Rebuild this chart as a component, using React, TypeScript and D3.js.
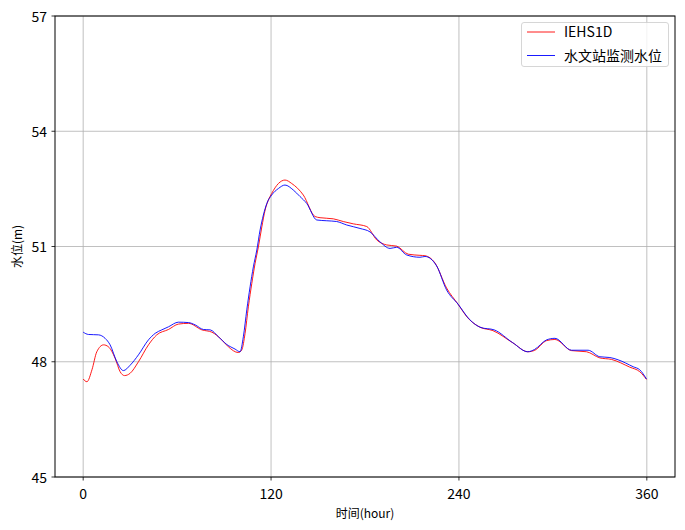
import React from "react";
import * as d3 from "d3";

const hoursRed = [0, 2.4, 5.6, 8.7, 13, 16.1, 20.4, 23.6, 26.4, 30, 35.3, 41.7, 47, 54.5, 60.8, 67.2, 75.8, 82.2, 88.5, 92.7, 99.1, 101.3, 103.4, 105.5, 107.7, 109.8, 111.9, 114.1, 116.2, 118.3, 120.4, 124.7, 128.9, 133.2, 140.6, 148.1, 151.3, 159.8, 166.1, 172.5, 181.1, 187.5, 193.9, 200.2, 207.6, 215.1, 218.3, 224.7, 232.1, 239.4, 245.7, 253.4, 261.7, 274.5, 284, 288.5, 296, 301.3, 311.9, 321.5, 330, 337.5, 349.1, 355.5, 359.8];
const valuesRed = [47.55, 47.48, 47.79, 48.26, 48.44, 48.39, 48.09, 47.74, 47.64, 47.7, 48.0, 48.44, 48.7, 48.84, 48.98, 49.0, 48.83, 48.77, 48.57, 48.39, 48.24, 48.31, 48.74, 49.43, 50.04, 50.56, 50.99, 51.51, 51.95, 52.21, 52.38, 52.64, 52.73, 52.64, 52.34, 51.78, 51.75, 51.72, 51.65, 51.59, 51.52, 51.17, 51.04, 51.01, 50.8, 50.77, 50.76, 50.57, 49.92, 49.5, 49.14, 48.9, 48.81, 48.49, 48.26, 48.3, 48.55, 48.58, 48.29, 48.26, 48.1, 48.06, 47.86, 47.74, 47.54];

const hoursBlue = [0, 3.4, 9.8, 14, 17.2, 21.5, 25.7, 30, 35.3, 41.7, 46, 50.2, 54.5, 60.8, 67.2, 71.5, 76.8, 81.1, 86.4, 91.7, 97, 100.2, 102.3, 104.5, 106.6, 108.7, 110.9, 113, 115.1, 117.3, 120.4, 124.7, 128.9, 134.2, 138.5, 142.8, 149.2, 155.6, 161.9, 168.3, 176.8, 183.2, 189.6, 196, 200.2, 206.6, 215.1, 218.3, 225.8, 232.1, 239.4, 246.8, 254.1, 262.5, 274.2, 284, 288.3, 296, 301.3, 311.9, 322.5, 330, 336.4, 341.7, 351.3, 355.5, 359.8];
const valuesBlue = [48.77, 48.71, 48.7, 48.61, 48.44, 48.0, 47.77, 47.91, 48.18, 48.57, 48.74, 48.83, 48.91, 49.03, 49.02, 48.96, 48.84, 48.83, 48.65, 48.45, 48.33, 48.26, 48.65, 49.35, 49.95, 50.47, 50.91, 51.43, 51.82, 52.12, 52.34, 52.51, 52.6, 52.47, 52.3, 52.12, 51.69, 51.67, 51.65, 51.56, 51.47, 51.38, 51.12, 50.95, 50.98, 50.78, 50.72, 50.74, 50.49, 49.87, 49.5, 49.1, 48.89, 48.83, 48.5, 48.26, 48.32, 48.57, 48.61, 48.3, 48.3, 48.13, 48.11, 48.05, 47.87, 47.79, 47.55];

const xTicks = [0, 120, 240, 360];
const yTicks = [45, 48, 51, 54, 57];
const seriesNames = ["IEHS1D", "水文站监测水位"];
const seriesColors = ["#ff0000", "#0000ff"];

const W = 685;
const H = 530;
const L = 55, R = 675, T = 16, B = 477;
const FONT = "'Noto Sans CJK SC', 'DejaVu Sans', sans-serif";

export default function App() {
  const x = d3.scaleLinear().domain([-18, 378]).range([L, R]);
  const y = d3.scaleLinear().domain([45, 57]).range([B, T]);
  const line = d3
    .line<[number, number]>()
    .x((d) => x(d[0]))
    .y((d) => y(d[1]))
    .curve(d3.curveMonotoneX);
  const red = hoursRed.map((h, i) => [h, valuesRed[i]] as [number, number]);
  const blue = hoursBlue.map((h, i) => [h, valuesBlue[i]] as [number, number]);

  return (
    <svg
      width={W}
      height={H}
      style={{ position: "absolute", left: 0, top: 0, background: "#fff" }}
      fontFamily={FONT}
    >
      <rect x={0} y={0} width={W} height={H} fill="#fff" />
      {xTicks.map((t) => (
        <line key={"gx" + t} x1={x(t)} x2={x(t)} y1={T} y2={B} stroke="#b0b0b0" strokeWidth={0.8} />
      ))}
      {yTicks.map((t) => (
        <line key={"gy" + t} x1={L} x2={R} y1={y(t)} y2={y(t)} stroke="#b0b0b0" strokeWidth={0.8} />
      ))}
      <path d={line(red) || ""} fill="none" stroke={seriesColors[0]} strokeWidth={0.9} />
      <path d={line(blue) || ""} fill="none" stroke={seriesColors[1]} strokeWidth={0.9} />
      <rect x={L} y={T} width={R - L} height={B - T} fill="none" stroke="#000" strokeWidth={1} />
      {xTicks.map((t) => (
        <g key={"tx" + t}>
          <line x1={x(t)} x2={x(t)} y1={B} y2={B + 3.5} stroke="#000" strokeWidth={0.8} />
          <text x={x(t)} y={B + 22} textAnchor="middle" fontSize={14} fill="#000">
            {t}
          </text>
        </g>
      ))}
      {yTicks.map((t) => (
        <g key={"ty" + t}>
          <line x1={L - 3.5} x2={L} y1={y(t)} y2={y(t)} stroke="#000" strokeWidth={0.8} />
          <text x={L - 8} y={y(t) + 5.5} textAnchor="end" fontSize={14} fill="#000">
            {t}
          </text>
        </g>
      ))}
      <text x={(L + R) / 2} y={518} textAnchor="middle" fontSize={12} fill="#000">
        时间(hour)
      </text>
      <text
        transform={`translate(22, ${(T + B) / 2}) rotate(-90)`}
        textAnchor="middle"
        fontSize={12}
        fill="#000"
      >
        水位(m)
      </text>
      <g>
        <rect x={521.5} y={22.5} width={147} height={44} rx={2.5} fill="#fff" fillOpacity={0.8} stroke="#cccccc" strokeWidth={0.8} />
        {seriesNames.map((n, i) => (
          <g key={n}>
            <line x1={527} x2={555} y1={32 + i * 23.5} y2={32 + i * 23.5} stroke={seriesColors[i]} strokeWidth={0.9} />
            <text x={564} y={32 + i * 23.5 + 5} fontSize={14} fill="#000">
              {n}
            </text>
          </g>
        ))}
      </g>
    </svg>
  );
}
